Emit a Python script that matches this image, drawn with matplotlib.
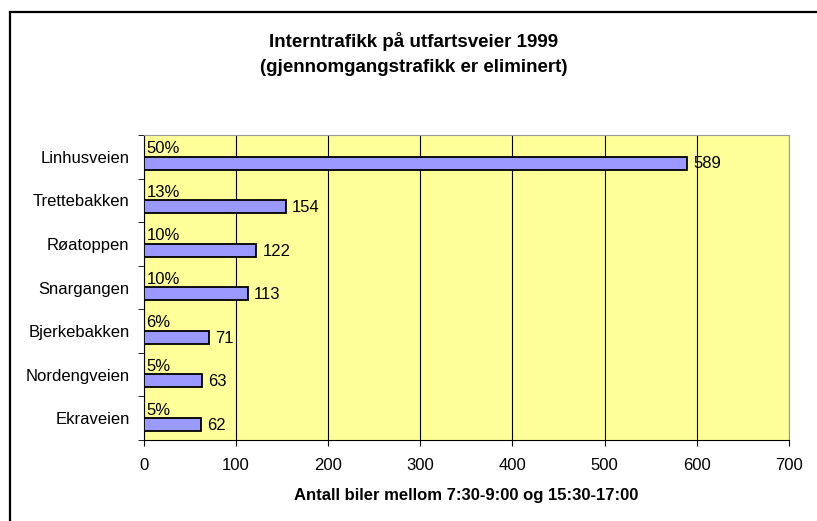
import matplotlib
matplotlib.use("Agg")
import matplotlib.pyplot as plt
from matplotlib.lines import Line2D

plt.rcParams['font.family'] = ['Liberation Sans', 'DejaVu Sans']

categories = ["Linhusveien", "Trettebakken", "Røatoppen", "Snargangen",
              "Bjerkebakken", "Nordengveien", "Ekraveien"]
values = [589, 154, 122, 113, 71, 63, 62]
percents = ["50%", "13%", "10%", "10%", "6%", "5%", "5%"]
xticks = [0, 100, 200, 300, 400, 500, 600, 700]
title = "Interntrafikk på utfartsveier 1999\n(gjennomgangstrafikk er eliminert)"
xlabel = "Antall biler mellom 7:30-9:00 og 15:30-17:00"

fig = plt.figure(figsize=(8.17, 5.21), dpi=100)
W, H = 817, 521
ax = fig.add_axes([143.5 / W, 1 - 440 / H, (789 - 143.5) / W, (440 - 135) / H])
ax.set_facecolor("#FFFF99")

n = len(categories)
ypos = list(range(n))
offset = 0.145
ax.barh([y + offset for y in ypos], values, height=0.3, color="#9999FF",
        edgecolor="black", linewidth=1.3, zorder=3)
ax.set_ylim(n - 0.5, -0.5)
ax.set_xlim(0, 700)
ax.set_xticks(xticks)
ax.set_xticklabels([str(t) for t in xticks], fontsize=12)
ax.set_yticks(ypos)
ax.set_yticklabels(categories, fontsize=12)
ax.tick_params(axis='y', length=0, pad=10)
ax.tick_params(axis='x', length=4, direction='out', pad=9)
ax.set_yticks([y + 0.5 for y in range(-1, n)], minor=True)
ax.tick_params(axis='y', which='minor', length=4, direction='out')

ax.grid(axis='x', color='black', linewidth=0.8, zorder=1)
for s in ["top", "right"]:
    ax.spines[s].set_color("#999999")
for s in ["left", "bottom"]:
    ax.spines[s].set_color("black")

for y, v, p in zip(ypos, values, percents):
    ax.text(3, y + offset - 0.16, p, fontsize=12, ha='left', va='bottom', zorder=4)
    ax.text(v + 7, y + offset + 0.02, str(v), fontsize=12, ha='left', va='center', zorder=4)

ax.set_xlabel(xlabel, fontsize=12, fontweight='bold', labelpad=11)

fig.text(0.5 + (10 / W) / 2, 1 - 54 / H, title, ha='center', va='center',
         fontsize=13.5, fontweight='bold', linespacing=1.65)

fig.add_artist(Line2D([10 / W, 10 / W], [0, 1 - 12 / H], transform=fig.transFigure,
                      color='black', linewidth=1.6))
fig.add_artist(Line2D([10 / W, 1], [1 - 12 / H, 1 - 12 / H], transform=fig.transFigure,
                      color='black', linewidth=1.6))

fig.savefig("out.png", dpi=100)
